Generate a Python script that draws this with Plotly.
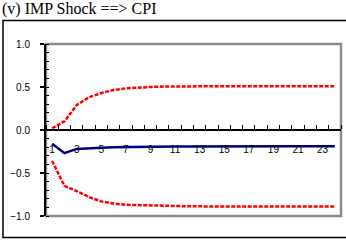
import plotly.graph_objects as go

periods = list(range(1, 25))
upper = [0.02, 0.10, 0.29, 0.38, 0.43, 0.465, 0.485, 0.495, 0.50, 0.505, 0.507, 0.508,
         0.509, 0.51, 0.51, 0.51, 0.51, 0.51, 0.51, 0.51, 0.51, 0.51, 0.51, 0.51]
median = [-0.16, -0.27, -0.22, -0.21, -0.205, -0.2, -0.2, -0.195, -0.195, -0.193, -0.192, -0.191,
          -0.19, -0.19, -0.19, -0.19, -0.19, -0.19, -0.19, -0.19, -0.19, -0.19, -0.19, -0.19]
lower = [-0.36, -0.65, -0.71, -0.78, -0.83, -0.855, -0.87, -0.875, -0.88, -0.883, -0.885, -0.887,
         -0.888, -0.889, -0.89, -0.89, -0.89, -0.89, -0.89, -0.89, -0.89, -0.89, -0.89, -0.89]
xticks = list(range(1, 24, 2))
title = "(v) IMP Shock ==> CPI"

fig = go.Figure()
fig.add_trace(go.Scatter(x=periods, y=upper, mode="lines",
                         line=dict(color="#ff0000", width=2.5, dash="4px,1.5px")))
fig.add_trace(go.Scatter(x=periods, y=lower, mode="lines",
                         line=dict(color="#ff0000", width=2.5, dash="4px,1.5px")))
fig.add_trace(go.Scatter(x=periods, y=median, mode="lines",
                         line=dict(color="#000080", width=2.5)))

W, H = 346, 242
L, R, T, B = 46, 5, 44, 26
pw, ph = W - L - R, H - T - B

fig.update_layout(
    width=W, height=H, margin=dict(l=L, r=R, t=T, b=B),
    paper_bgcolor="white", plot_bgcolor="white", showlegend=False,
    font=dict(family="Liberation Sans, Arial", size=10, color="black"),
    xaxis=dict(range=[0.5, 24.5], anchor="free", position=0.5, automargin=False,
               showline=True, linecolor="black", linewidth=2,
               showgrid=False, zeroline=False, ticklabeloverflow="allow",
               tickmode="array", tickvals=xticks, ticktext=[str(v) for v in xticks],
               ticks="", ticklabelstandoff=10,
               minor=dict(tickmode="linear", tick0=0.5, dtick=1, ticks="inside",
                          ticklen=4, tickwidth=1, tickcolor="black", showgrid=False)),
    yaxis=dict(range=[-1, 1], automargin=False, showline=True, linecolor="black", linewidth=2,
               showgrid=False, zeroline=False,
               tickmode="linear", tick0=0, dtick=0.5, tickformat=".1f",
               ticks="outside", ticklen=4, tickwidth=1.5, tickcolor="black",
               ticklabelstandoff=8,
               minor=dict(tickmode="linear", tick0=0, dtick=0.1, ticks="inside",
                          ticklen=3, tickwidth=1, tickcolor="black", showgrid=False)),
)

# plot-area gray border
fig.add_shape(type="rect", xref="paper", yref="paper", x0=0, x1=1, y0=0, y1=1,
              line=dict(color="#8c8c8c", width=2.5), layer="below")
# outer black frame
fig.add_shape(type="rect", xref="paper", yref="paper",
              x0=(3 - L) / pw, x1=(349 - L) / pw,
              y0=(T + ph - 237.5) / ph, y1=(T + ph - 20.5) / ph,
              line=dict(color="black", width=1.5))
fig.add_annotation(text=title, xref="paper", yref="paper",
                   x=(1 - L) / pw, y=(T + ph - 19) / ph, xanchor="left", yanchor="bottom",
                   showarrow=False, font=dict(family="Liberation Serif, Times New Roman", size=16, color="black"),
                   borderpad=0)

fig.write_html("out.html", config={"displayModeBar": False},
               post_script="document.body.style.margin='0';document.body.style.padding='0';")
